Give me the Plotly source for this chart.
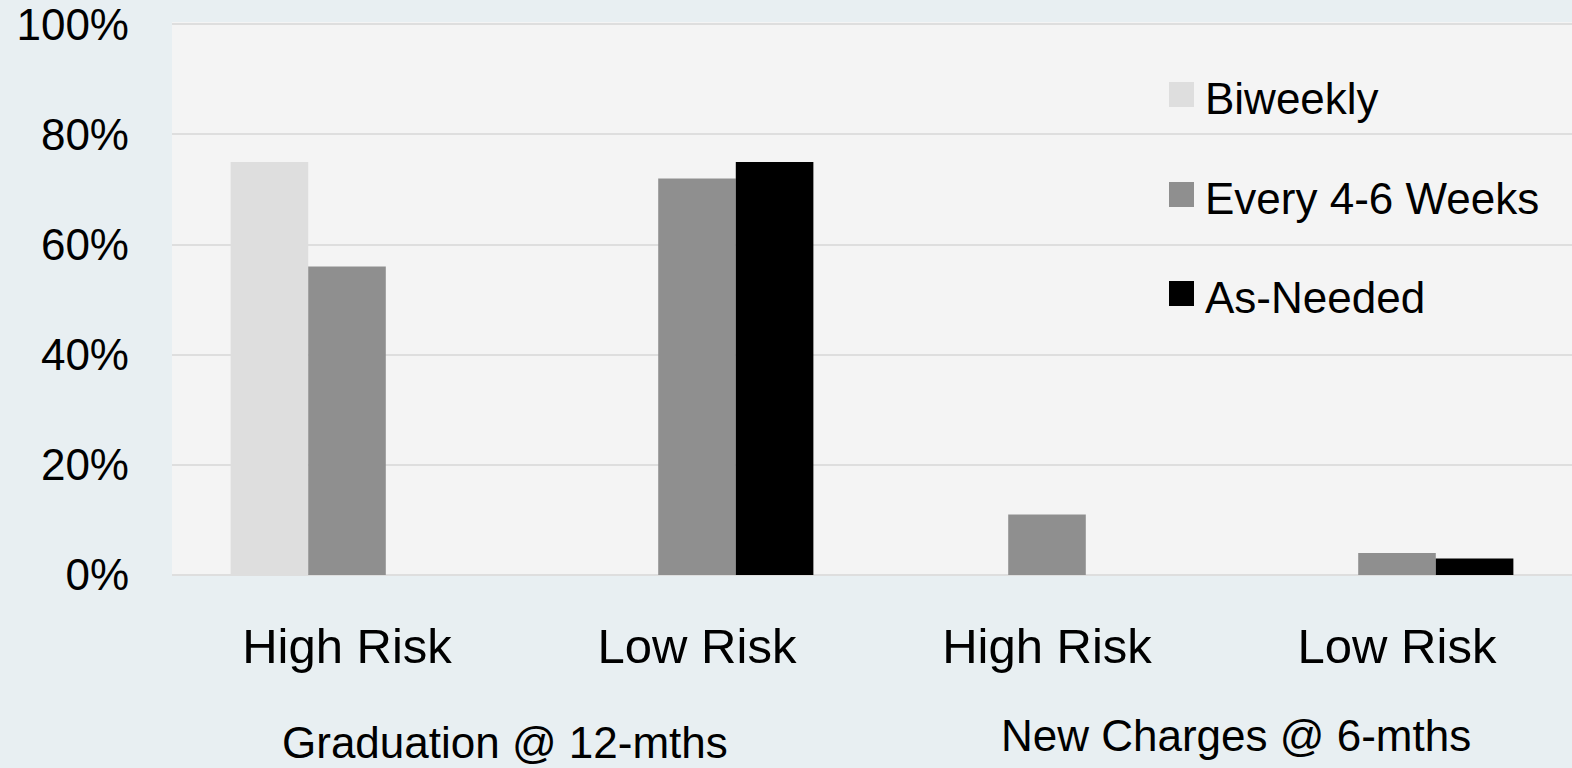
import plotly.graph_objects as go

# Outcome groups and risk levels along the x axis
risk_labels = ["High Risk", "Low Risk", "High Risk", "Low Risk"]
outcome_groups = ["Graduation @ 12-mths", "New Charges @ 6-mths"]

# Percent of participants per supervision schedule (None = no bar)
series_names = ["Biweekly", "Every 4-6 Weeks", "As-Needed"]
biweekly = [75, None, None, None]
every_4_6_weeks = [56, 72, 11, 4]
as_needed = [None, 75, None, 3]

y_ticks = [0, 20, 40, 60, 80, 100]

colors = ["#dedede", "#8f8f8f", "#000000"]

W, H = 1572, 768
L, R, T, B = 172, 0, 22, 193
PW = W - L - R
PH = H - T - B

x_pos = list(range(len(risk_labels)))

fig = go.Figure()
for name, vals, col in zip(series_names, [biweekly, every_4_6_weeks, as_needed], colors):
    fig.add_trace(go.Bar(
        x=x_pos, y=vals, name=name,
        marker=dict(color=col, line=dict(width=0)),
        showlegend=False,
    ))

# Legend drawn as swatches plus labels in the upper right of the plot
def px_to_paper_x(px):
    return (px - L) / PW

def px_to_paper_y(py):
    return (H - B - py) / PH

legend_x = 1169
legend_y = [94.5, 194.5, 293.5]
sw = 25
shapes = []
annotations = []
for name, col, cy in zip(series_names, colors, legend_y):
    shapes.append(dict(
        type="rect", xref="paper", yref="paper",
        x0=px_to_paper_x(legend_x), x1=px_to_paper_x(legend_x + sw),
        y0=px_to_paper_y(cy + sw / 2), y1=px_to_paper_y(cy - sw / 2),
        fillcolor=col, line=dict(width=0), layer="above",
    ))
    annotations.append(dict(
        xref="paper", yref="paper",
        x=px_to_paper_x(legend_x + 34), y=px_to_paper_y(cy + 4),
        text=name, showarrow=False, xanchor="left", yanchor="middle",
        font=dict(family="Liberation Sans, Arial, sans-serif", size=44, color="#000000"),
    ))

# Outcome group captions below the risk labels
group_specs = [(0.5, 742, -17), (2.5, 735, 14)]
for label, (xc, cy, shift) in zip(outcome_groups, group_specs):
    annotations.append(dict(
        xref="x", yref="paper", x=xc, y=px_to_paper_y(cy),
        xshift=shift,
        text=label, showarrow=False, xanchor="center", yanchor="middle",
        font=dict(family="Liberation Sans, Arial, sans-serif", size=44, color="#000000"),
    ))

fig.update_layout(
    width=W, height=H,
    margin=dict(l=L, r=R, t=T, b=B, pad=0),
    paper_bgcolor="#e8eff2",
    plot_bgcolor="#f4f4f4",
    barmode="group",
    bargap=0.335,
    bargroupgap=0,
    showlegend=False,
    shapes=shapes,
    annotations=annotations,
    xaxis=dict(
        range=[-0.5, 3.5],
        tickvals=x_pos, ticktext=risk_labels,
        showgrid=False, zeroline=False, showline=False, ticks="",
        ticklabelstandoff=38,
        tickfont=dict(family="Liberation Sans, Arial, sans-serif", size=49, color="#000000"),
        fixedrange=True,
    ),
    yaxis=dict(
        range=[0, 100.4],
        tickvals=y_ticks, ticktext=[f"{v}%" for v in y_ticks],
        showgrid=True, gridcolor="#dedede", gridwidth=2,
        zeroline=True, zerolinecolor="#dedede", zerolinewidth=2,
        showline=False, ticks="",
        ticklabelstandoff=42,
        ticklabeloverflow="allow",
        tickfont=dict(family="Liberation Sans, Arial, sans-serif", size=44, color="#000000"),
        fixedrange=True,
    ),
)

fig.write_html("out.html", config={"displayModeBar": False})
